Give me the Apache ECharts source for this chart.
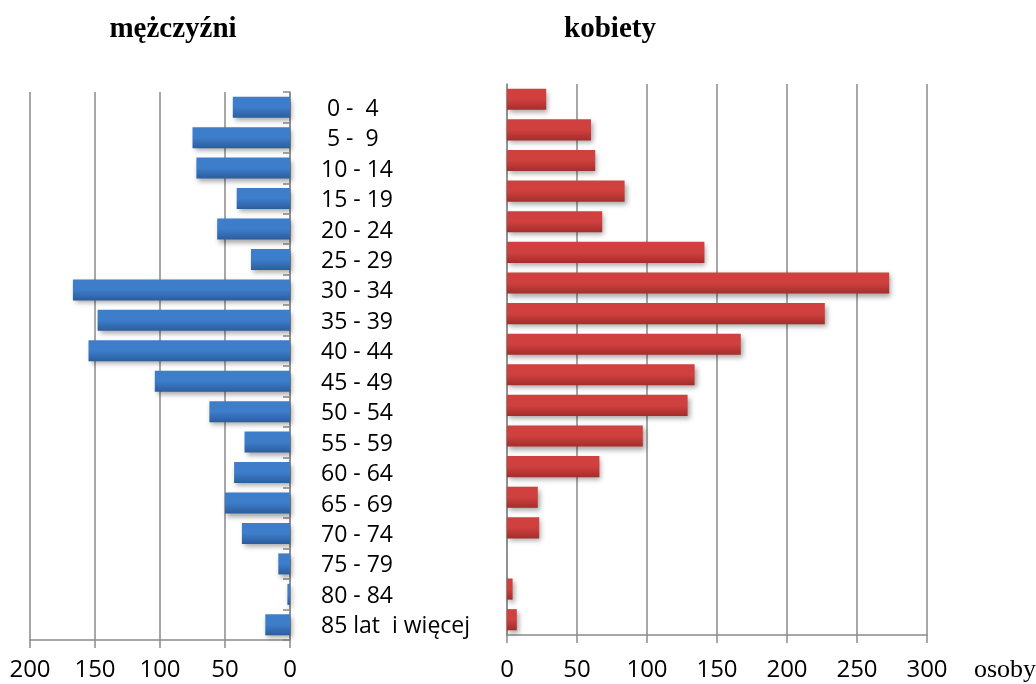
<!DOCTYPE html>
<html>
<head>
<meta charset="utf-8">
<script src="https://cdn.jsdelivr.net/npm/echarts@6/dist/echarts.min.js"></script>
<style>html,body{margin:0;padding:0;background:#fff;}#c{width:1036px;height:684px;}</style>
</head>
<body>
<div id="c"></div>
<script>
var categories = [' 0 -  4', ' 5 -  9', '10 - 14', '15 - 19', '20 - 24', '25 - 29', '30 - 34', '35 - 39', '40 - 44', '45 - 49', '50 - 54', '55 - 59', '60 - 64', '65 - 69', '70 - 74', '75 - 79', '80 - 84', '85 lat  i więcej'];
var men = [44, 75, 72, 41, 56, 30, 167, 148, 155, 104, 62, 35, 43, 50, 37, 9, 2, 19];
var women = [28, 60, 63, 84, 68, 141, 273, 227, 167, 134, 129, 97, 66, 22, 23, 0, 4, 7];
var menTicks = [0, 50, 100, 150, 200];
var womenTicks = [0, 50, 100, 150, 200, 250, 300];

var chart = echarts.init(document.getElementById('c'), null, {renderer: 'canvas'});
var gridColor = '#8a8a8a';
var tickFont = {fontFamily: 'Open Sans', fontSize: 24, color: '#000'};

function grad(top, bottom) {
  return {type: 'linear', x: 0, y: 0, x2: 0, y2: 1,
    colorStops: [{offset: 0, color: top}, {offset: 0.5, color: top}, {offset: 1, color: bottom}]};
}

chart.setOption({
  animation: false,
  backgroundColor: '#fff',
  title: [
    {text: 'mężczyźni', left: 173, top: 15, textAlign: 'center', padding: 0,
      textStyle: {fontFamily: 'Liberation Serif', fontWeight: 'bold', fontSize: 29, color: '#000'}},
    {text: 'kobiety', left: 610, top: 15, textAlign: 'center', padding: 0,
      textStyle: {fontFamily: 'Liberation Serif', fontWeight: 'bold', fontSize: 29, color: '#000'}},
    {text: 'osoby', left: 974, top: 657, padding: 0,
      textStyle: {fontFamily: 'Liberation Serif', fontWeight: 'normal', fontSize: 26, color: '#000'}}
  ],
  grid: [
    {left: 30, right: 746, top: 92, bottom: 44},
    {left: 507, right: 109, top: 84, bottom: 49},
    {left: 321, width: 150, top: 94, bottom: 42}
  ],
  xAxis: [
    {gridIndex: 0, type: 'value', inverse: true, min: 0, max: 200, interval: 50,
      axisLine: {show: true, lineStyle: {color: gridColor, width: 1.5}},
      axisTick: {show: true, length: 8, lineStyle: {color: gridColor, width: 1.5}},
      splitLine: {show: true, lineStyle: {color: gridColor, width: 1.5}},
      axisLabel: Object.assign({margin: 18, formatter: function (v) { return menTicks.indexOf(v) >= 0 ? String(v) : ''; }}, tickFont)},
    {gridIndex: 1, type: 'value', min: 0, max: 300, interval: 50,
      axisLine: {show: true, lineStyle: {color: gridColor, width: 1.5}},
      axisTick: {show: true, length: 8, lineStyle: {color: gridColor, width: 1.5}},
      splitLine: {show: true, lineStyle: {color: gridColor, width: 1.5}},
      axisLabel: Object.assign({margin: 23, formatter: function (v) { return womenTicks.indexOf(v) >= 0 ? String(v) : ''; }}, tickFont)},
    {gridIndex: 2, type: 'value', show: false, min: 0, max: 1}
  ],
  yAxis: [
    {gridIndex: 0, type: 'category', data: categories, inverse: true, position: 'right',
      axisLine: {show: true, lineStyle: {color: gridColor, width: 1.5}},
      axisTick: {show: true, inside: true, length: 7, lineStyle: {color: gridColor, width: 1.5}},
      axisLabel: {show: false}},
    {gridIndex: 1, type: 'category', data: categories, inverse: true,
      axisLine: {show: true, lineStyle: {color: gridColor, width: 1.5}},
      axisTick: {show: false}, axisLabel: {show: false}},
    {gridIndex: 2, type: 'category', data: categories, inverse: true, position: 'left',
      axisLine: {show: false}, axisTick: {show: false},
      axisLabel: {show: true, inside: true, margin: 0, align: 'left',
        fontFamily: 'Open Sans', fontSize: 23, color: '#000'}}
  ],
  series: [
    {type: 'bar', xAxisIndex: 0, yAxisIndex: 0, data: men, barCategoryGap: '31%',
      itemStyle: {color: grad('#3d7dca', '#2c5d9d'), borderWidth: 0,
        shadowBlur: 5, shadowOffsetX: 2, shadowOffsetY: 3, shadowColor: 'rgba(0,0,0,0.35)'}},
    {type: 'bar', xAxisIndex: 1, yAxisIndex: 1, data: women, barCategoryGap: '31%',
      itemStyle: {color: grad('#cf403e', '#a32e2c'), borderWidth: 0,
        shadowBlur: 5, shadowOffsetX: 2, shadowOffsetY: 3, shadowColor: 'rgba(0,0,0,0.35)'}}
  ]
});
</script>
</body>
</html>
